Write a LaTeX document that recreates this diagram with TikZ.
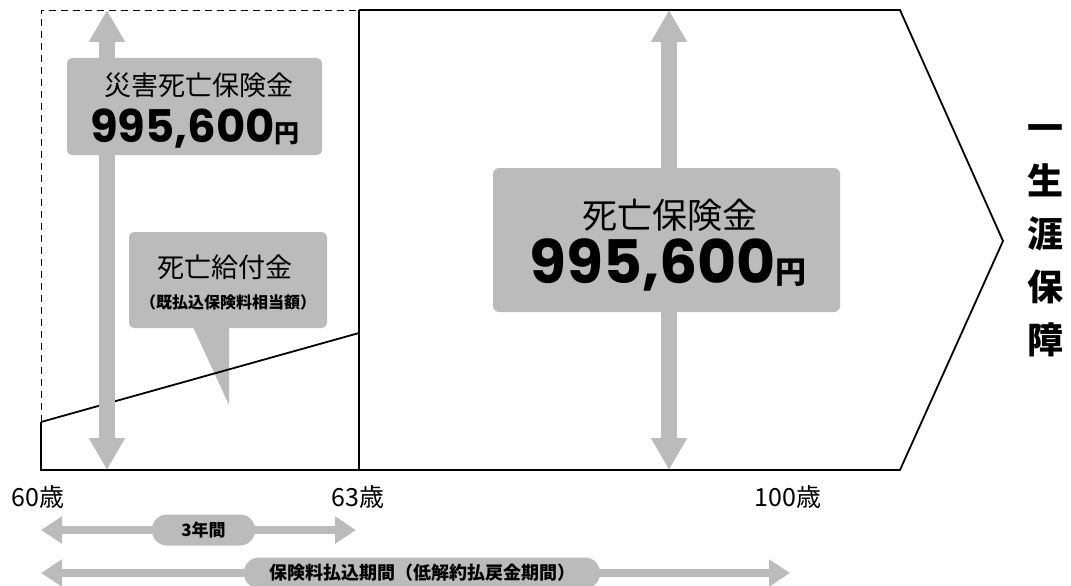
\documentclass[tikz,border=0pt]{standalone}
\usepackage{fontspec}
\newfontfamily\jp{Noto Sans CJK JP}
\newfontfamily\num{Poppins}
\usetikzlibrary{arrows.meta}
\definecolor{ag}{HTML}{BBBBBB}
\tikzset{
  bigarrow/.style={draw=ag, line width=16pt, {Triangle[length=32pt,width=34pt]}-{Triangle[length=32pt,width=34pt]}},
  smallarrow/.style={draw=ag, line width=8pt, {Triangle[length=21pt,width=26pt]}-{Triangle[length=21pt,width=26pt]}},
  pill/.style={fill=ag, rounded corners=15pt, minimum height=31pt, inner sep=0pt},
  outline/.style={draw=black, line width=1.8pt},
  agelabel/.style={font=\jp\fontsize{25}{25}\selectfont, inner sep=0pt},
}
\begin{document}
\begin{tikzpicture}[x=1pt,y=-1pt]
\useasboundingbox (0,0) rectangle (1071,586);
% coordinates
\coordinate (ltop) at (107,10);
\coordinate (lbot) at (107,470);
\coordinate (ctop) at (669,10);
\coordinate (cbot) at (669,470);
\coordinate (s0) at (41,422);
\coordinate (s1) at (359,333);
% dashed frame
\draw[line width=0.9pt, dash pattern=on 7pt off 5pt] (41,422) -- (41,10) -- (359,10);
% pentagon outline
\draw[outline] (359,10) -- (900,10) -- (1003,241) -- (900,470) -- (41,470) -- (41,422);
\draw[outline] (359,10) -- (359,470);
% callout
\fill[ag, rounded corners=5pt] (129,232) rectangle (327,328);
\fill[ag] (193,327) -- (229,327) -- (229,405) -- cycle;
\node[inner sep=0pt, font=\jp\fontsize{27}{27}\selectfont] (kyufu) at (225,267) {死亡給付金};
\node[inner sep=0pt, font=\jp\bfseries\fontsize{16}{16}\selectfont] (kibarai) at (228,302) {（既払込保険料相当額）};
% slope line
\draw[outline] (s0) -- (s1);
% arrows
\draw[bigarrow] (ltop) -- (lbot);
\draw[bigarrow] (ctop) -- (cbot);
% left box
\fill[ag, rounded corners=5pt] (67,58) rectangle (322,155);
\node[inner sep=0pt, font=\jp\fontsize{27}{27}\selectfont] (saigai) at (199,85) {災害死亡保険金};
\node[inner sep=0pt] (lamount) at (195,129) {{\num\bfseries\fontsize{45}{45}\selectfont 995,600}{\jp\bfseries\fontsize{25}{25}\selectfont 円}};
% center box
\fill[ag, rounded corners=6pt] (493,168) rectangle (840,312);
\node[inner sep=0pt, font=\jp\fontsize{35}{35}\selectfont] (shibou) at (670,215) {死亡保険金};
\node[inner sep=0pt] (camount) at (668,265) {{\num\bfseries\fontsize{60}{60}\selectfont 995,600}{\jp\bfseries\fontsize{31}{31}\selectfont 円}};
% right vertical text
\node[inner sep=0pt, align=center, font=\jp\bfseries\fontsize{36}{53}\selectfont] (shogai) at (1045,241) {一\\生\\涯\\保\\障};
% age labels
\node[agelabel] (a60) at (38,497) {60歳};
\node[agelabel] (a63) at (358,497) {63歳};
\node[agelabel] (a100) at (788,497) {100歳};
% period arrows
\coordinate (p1a) at (41,530);
\coordinate (p1b) at (356,530);
\coordinate (p2a) at (41,573);
\coordinate (p2b) at (790,573);
\draw[smallarrow] (p1a) -- (p1b);
\draw[smallarrow] (p2a) -- (p2b);
\node[pill, minimum width=103pt, font=\jp\bfseries\fontsize{17}{17}\selectfont] (three) at (203.5,530) {3年間};
\node[pill, minimum width=356pt, font=\jp\bfseries\fontsize{18}{18}\selectfont] (period) at (422,573) {保険料払込期間（低解約払戻金期間）};
\end{tikzpicture}
\end{document}
